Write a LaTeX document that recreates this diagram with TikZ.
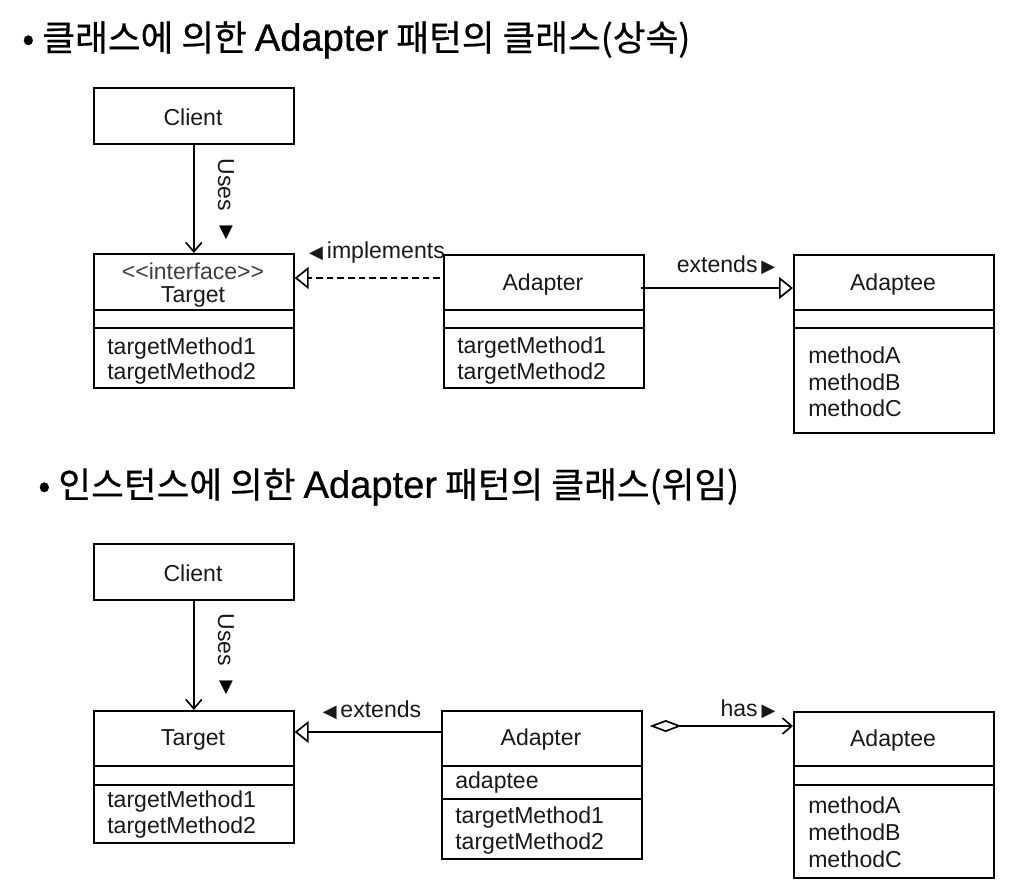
\documentclass[tikz,border=0pt]{standalone}
\usepackage{fontspec}
\setmainfont{Liberation Sans}
\newfontfamily\kr[FakeBold=0.6]{Noto Sans CJK KR}
\newfontfamily\lat[FakeBold=0.6]{Liberation Sans}
\newfontfamily\sym{DejaVu Sans}
\usetikzlibrary{arrows.meta,calc}
\begin{document}
\begin{tikzpicture}[x=0.75pt,y=-0.75pt,
  box/.style={draw, line width=1.25pt, inner sep=0pt, anchor=north west, minimum width=150pt},
  lbl/.style={font=\fontsize{17.3}{20}\selectfont, inner sep=0pt, text=black!90},
  meth/.style={lbl, anchor=west},
  ttl/.style={anchor=west, inner sep=0pt, font=\fontsize{26.7}{30}\selectfont},
  tri/.style={inner sep=0pt, font=\sym\fontsize{13.5}{14}\selectfont},
  con/.style={line width=1.25pt},
  gen/.style={con, -{Triangle[open, length=10.5pt, width=16.5pt, line width=1.25pt]}},
  usearrow/.style={con, -{Straight Barb[length=7pt, width=12pt, line width=1.25pt]}},
  hasarrow/.style={con, {Diamond[open, length=24pt, width=9pt, line width=1.25pt]}-{Straight Barb[length=7pt, width=12pt, line width=1.25pt]}}
]
\useasboundingbox (0,0) rectangle (1019,891);

% titles
\node[ttl] (title1) at (22,40) {\kr • 클래스에 의한 {\lat\fontsize{28.6}{30}\selectfont Adapter} 패턴의 클래스(상속)};
\node[ttl] (title2) at (38,487) {\kr • 인스턴스에 의한 {\lat\fontsize{28.6}{30}\selectfont Adapter} 패턴의 클래스(위임)};

% ---------- top diagram ----------
\node[box, minimum height=42pt] (c1) at (93,87) {};
\node[lbl] (c1t) at (193,117) {Client};

\node[box, minimum height=100.5pt] (t1) at (93,253) {};
\draw[con] ($(t1.north west)+(0,57)$) -- ($(t1.north east)+(0,57)$);
\draw[con] ($(t1.north west)+(0,75)$) -- ($(t1.north east)+(0,75)$);
\node[lbl, text=black!75] (t1s) at (193,271) {<{}<interface>{}>};
\node[lbl] (t1n) at (193,297) {Target};
\node[meth] (t1m1) at (107,349) {targetMethod1};
\node[meth] (t1m2) at (107,374) {targetMethod2};

\node[box, minimum height=99.75pt] (a1) at (443,254) {};
\draw[con] ($(a1.north west)+(0,56)$) -- ($(a1.north east)+(0,56)$);
\draw[con] ($(a1.north west)+(0,74)$) -- ($(a1.north east)+(0,74)$);
\node[lbl] (a1n) at (543,285) {Adapter};
\node[meth] (a1m1) at (457,348) {targetMethod1};
\node[meth] (a1m2) at (457,374) {targetMethod2};

\node[box, minimum height=133.5pt] (e1) at (793,254) {};
\draw[con] ($(e1.north west)+(0,56)$) -- ($(e1.north east)+(0,56)$);
\draw[con] ($(e1.north west)+(0,74)$) -- ($(e1.north east)+(0,74)$);
\node[lbl] (e1n) at (893,285) {Adaptee};
\node[meth] (e1m1) at (808,355) {methodA};
\node[meth] (e1m2) at (808,382) {methodB};
\node[meth] (e1m3) at (808,408) {methodC};

\draw[usearrow] (c1.south) -- (t1.north);
\node[lbl, rotate=-90] (u1) at (226,185) {Uses};
\node[tri] (u1t) at (226,233) {▼};

\draw[gen, dashed, dash pattern=on 5pt off 3pt] ($(a1.north west)+(-3,24)$) -- ($(t1.north east)+(0,25)$);
\node[lbl] (impl) at (377,253) {{\sym\fontsize{13.5}{14}\selectfont ◀}\,implements};

\draw[gen] ($(a1.north east)+(-4,34)$) -- ($(e1.north west)+(0,34)$);
\node[lbl] (ext1) at (726,265) {extends\,{\sym\fontsize{13.5}{14}\selectfont ▶}};

% ---------- bottom diagram ----------
\node[box, minimum height=42pt] (c2) at (93,543) {};
\node[lbl] (c2t) at (193,573) {Client};

\node[box, minimum height=99pt] (t2) at (93,710) {};
\draw[con] ($(t2.north west)+(0,56)$) -- ($(t2.north east)+(0,56)$);
\draw[con] ($(t2.north west)+(0,75)$) -- ($(t2.north east)+(0,75)$);
\node[lbl] (t2n) at (193,740) {Target};
\node[meth] (t2m1) at (107,802) {targetMethod1};
\node[meth] (t2m2) at (107,828) {targetMethod2};

\node[box, minimum height=111pt] (a2) at (441,710) {};
\draw[con] ($(a2.north west)+(0,56)$) -- ($(a2.north east)+(0,56)$);
\draw[con] ($(a2.north west)+(0,89)$) -- ($(a2.north east)+(0,89)$);
\node[lbl] (a2n) at (541,740) {Adapter};
\node[meth] (a2f) at (455,783) {adaptee};
\node[meth] (a2m1) at (455,818) {targetMethod1};
\node[meth] (a2m2) at (455,844) {targetMethod2};

\node[box, minimum height=124.5pt] (e2) at (793,711) {};
\draw[con] ($(e2.north west)+(0,55)$) -- ($(e2.north east)+(0,55)$);
\draw[con] ($(e2.north west)+(0,74)$) -- ($(e2.north east)+(0,74)$);
\node[lbl] (e2n) at (893,741) {Adaptee};
\node[meth] (e2m1) at (808,805) {methodA};
\node[meth] (e2m2) at (808,832) {methodB};
\node[meth] (e2m3) at (808,859) {methodC};

\draw[usearrow] (c2.south) -- (t2.north);
\node[lbl, rotate=-90] (u2) at (226,640) {Uses};
\node[tri] (u2t) at (226,688) {▼};

\draw[gen] ($(a2.north west)+(0,22)$) -- ($(t2.north east)+(0,22)$);
\node[lbl] (ext2) at (372,710) {{\sym\fontsize{13.5}{14}\selectfont ◀}\,extends};

\draw[hasarrow] ($(a2.north east)+(7,16)$) -- ($(e2.north west)+(0,15)$);
\node[lbl] (has) at (748,709) {has\,{\sym\fontsize{13.5}{14}\selectfont ▶}};
\end{tikzpicture}
\end{document}
